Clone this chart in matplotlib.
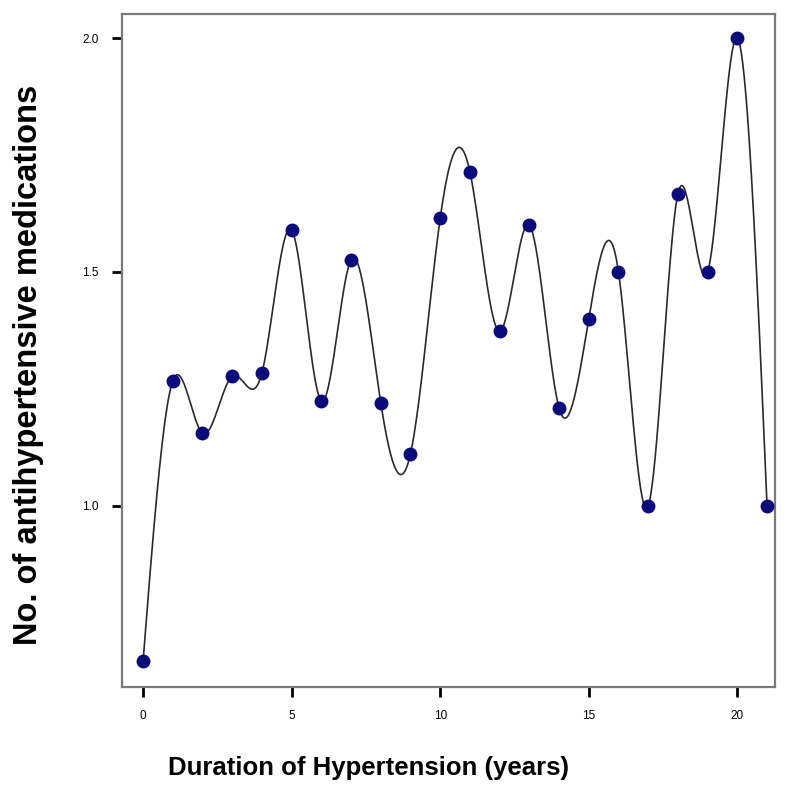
import numpy as np
import matplotlib.pyplot as plt

# mean number of antihypertensive medications by duration of hypertension
years = [0, 1, 2, 3, 4, 5, 6, 7, 8, 9, 10, 11, 12, 13, 14, 15, 16, 17, 18, 19, 20, 21]
n_meds = [0.667, 1.267, 1.155, 1.277, 1.284, 1.590, 1.224, 1.526, 1.220, 1.111, 1.615,
          1.714, 1.373, 1.600, 1.209, 1.400, 1.500, 1.000, 1.667, 1.500, 2.000, 1.000]

x_ticks = [0, 5, 10, 15, 20]
y_ticks = [1.0, 1.5, 2.0]


def natural_spline(x, y, n=800):
    # natural cubic interpolating spline (numpy only)
    x = np.asarray(x, float)
    y = np.asarray(y, float)
    k = len(x)
    h = np.diff(x)
    A = np.zeros((k, k))
    b = np.zeros(k)
    A[0, 0] = 1
    A[-1, -1] = 1
    for i in range(1, k - 1):
        A[i, i - 1] = h[i - 1]
        A[i, i] = 2 * (h[i - 1] + h[i])
        A[i, i + 1] = h[i]
        b[i] = 6 * ((y[i + 1] - y[i]) / h[i] - (y[i] - y[i - 1]) / h[i - 1])
    M = np.linalg.solve(A, b)
    xs = np.linspace(x[0], x[-1], n)
    idx = np.clip(np.searchsorted(x, xs) - 1, 0, k - 2)
    x0, x1 = x[idx], x[idx + 1]
    hh = x1 - x0
    ys = (M[idx] * (x1 - xs) ** 3 / (6 * hh) + M[idx + 1] * (xs - x0) ** 3 / (6 * hh)
          + (y[idx] / hh - M[idx] * hh / 6) * (x1 - xs)
          + (y[idx + 1] / hh - M[idx + 1] * hh / 6) * (xs - x0))
    return xs, ys


plt.rcParams['font.family'] = ['Liberation Sans', 'DejaVu Sans']

fig = plt.figure(figsize=(7.92, 7.92), dpi=100)
ax = fig.add_axes([0.154, 0.133, 0.825, 0.849])

xs, ys = natural_spline(years, n_meds)
ax.plot(xs, ys, color='#2a2a2a', lw=1.2, zorder=2)
ax.plot(years, n_meds, 'o', color='#0a0a7a', ms=9, mec='#0a0a7a', zorder=3)

ax.set_xlim(-0.71, 21.28)
ax.set_ylim(0.613, 2.051)
ax.set_xticks(x_ticks)
ax.set_xticklabels([str(t) for t in x_ticks])
ax.set_yticks(y_ticks)
ax.set_yticklabels(['%.1f' % t for t in y_ticks])
ax.tick_params(axis='both', direction='out', length=7, width=2, color='black',
               labelsize=8.5, pad=10)

for s in ax.spines.values():
    s.set_color('#7a7a7a')
    s.set_linewidth(1.6)

ax.set_xlabel('Duration of Hypertension (years)', fontsize=18.5, fontweight='bold')
ax.xaxis.set_label_coords(0.377, -0.103)
ax.set_ylabel('No. of antihypertensive medications', fontsize=23.5, fontweight='bold')
ax.yaxis.set_label_coords(-0.12, 0.478)

fig.savefig('out.png', dpi=100)
